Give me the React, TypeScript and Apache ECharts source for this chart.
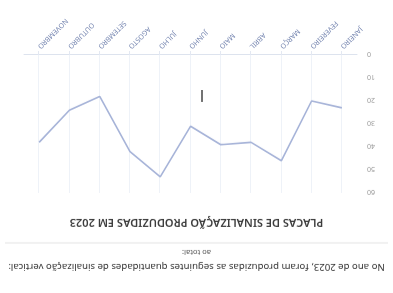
import React, { useEffect, useRef } from "react";
import * as echarts from "echarts";

const months = ["JANEIRO", "FEVEREIRO", "MARÇO", "ABRIL", "MAIO", "JUNHO", "JULHO", "AGOSTO", "SETEMBRO", "OUTUBRO", "NOVEMBRO"];
const placas = [23, 20, 46, 38, 39, 31, 53, 42, 18, 24, 38];
const yMin = 0;
const yMax = 60;
const yStep = 10;
const introText = "No ano de 2023, foram produzidas as seguintes quantidades de sinalização vertical:";
const introText2 = "ao total:";
const titleText = "PLACAS DE SINALIZAÇÃO PRODUZIDAS EM 2023";

export default function App() {
  const ref = useRef<HTMLDivElement>(null);
  useEffect(() => {
    if (!ref.current) return;
    const chart = echarts.init(ref.current, null, { renderer: "svg" });
    const font = "'Noto Sans', 'Open Sans', sans-serif";
    chart.setOption({
      animation: false,
      backgroundColor: "#ffffff",
      textStyle: { fontFamily: font },
      grid: { left: 36, right: 24, top: 100, bottom: 55, containLabel: false },
      xAxis: {
        type: "category",
        data: months,
        boundaryGap: true,
        axisLine: { show: true, lineStyle: { color: "#dde3ee", width: 1 } },
        axisTick: { show: true, alignWithLabel: true, length: 4, lineStyle: { color: "#e3e8f2" } },
        splitLine: { show: true, alignWithLabel: true, lineStyle: { color: "#eef2f8", width: 1 } },
        axisLabel: {
          rotate: 45,
          fontSize: 7,
          color: "#7585b0",
          margin: 7,
          interval: 0,
          fontFamily: font,
        },
      },
      yAxis: {
        type: "value",
        min: yMin,
        max: yMax,
        interval: yStep,
        axisLine: { show: false },
        axisTick: { show: false },
        splitLine: { show: false },
        axisLabel: { fontSize: 7, color: "#999999", margin: 10, fontFamily: font },
      },
      series: [
        {
          type: "line",
          data: placas,
          showSymbol: false,
          symbol: "none",
          lineStyle: { color: "#a6b3d8", width: 1.6 },
        },
      ],
      graphic: [
        {
          type: "text",
          x: 196.5,
          y: 25,
          style: { text: introText, fontSize: 9.6, fill: "#333333", fontFamily: font, align: "center", verticalAlign: "middle" },
        },
        {
          type: "text",
          x: 196.5,
          y: 40,
          style: { text: introText2, fontSize: 7.5, fill: "#555555", fontFamily: font, align: "center", verticalAlign: "middle" },
        },
        {
          type: "line",
          shape: { x1: 5, y1: 50, x2: 388, y2: 50 },
          style: { stroke: "#e4e4e4", lineWidth: 1 },
        },
        {
          type: "text",
          left: "center",
          top: 64,
          style: { text: titleText, fontSize: 11, fontWeight: 600, fill: "#3c3c3c", fontFamily: font },
        },
        {
          type: "line",
          shape: { x1: 191, y1: 191, x2: 191, y2: 203 },
          style: { stroke: "#444444", lineWidth: 1.5 },
        },
      ],
    });
    return () => chart.dispose();
  }, []);
  return (
    <div
      style={{
        position: "fixed",
        left: 0,
        top: 0,
        width: 393,
        height: 293,
        transform: "rotate(180deg)",
        background: "#fff",
      }}
    >
      <div ref={ref} style={{ width: 393, height: 293 }} />
    </div>
  );
}
